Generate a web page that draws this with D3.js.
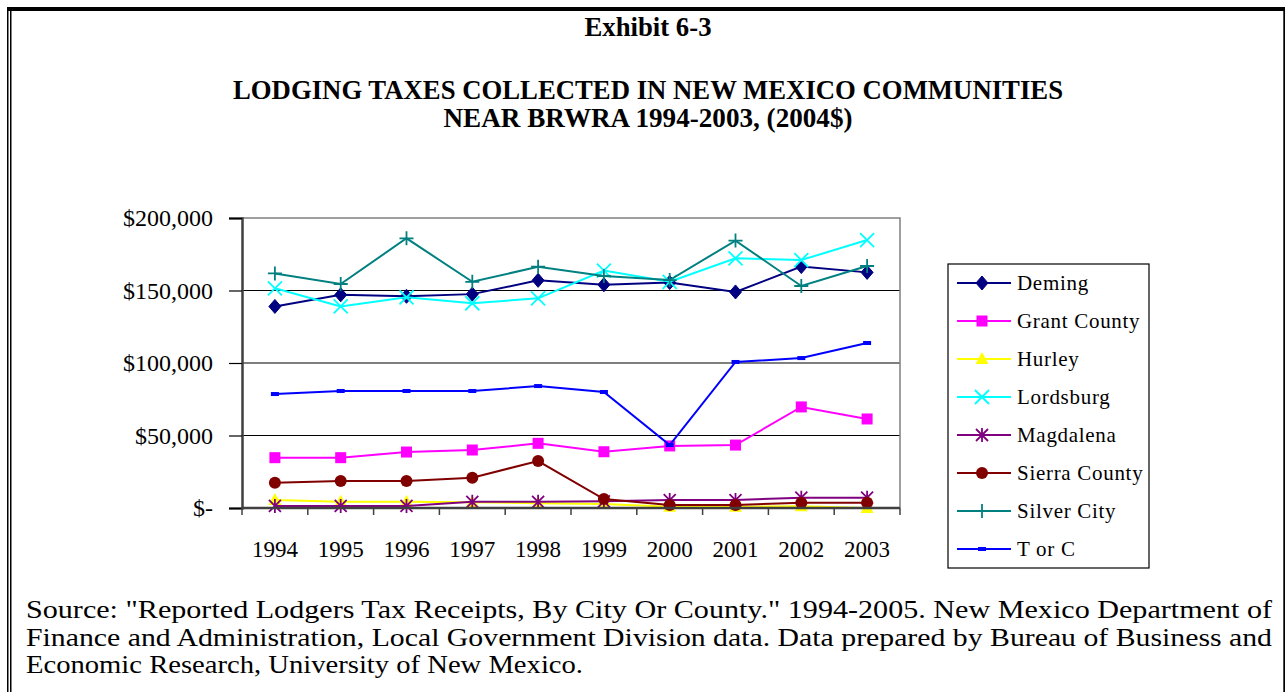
<!DOCTYPE html>
<html>
<head>
<meta charset="utf-8">
<script src="https://cdn.jsdelivr.net/npm/d3@7"></script>
<style>
  body { margin: 0; background: #fff; }
  text { font-family: "Liberation Serif", "Times New Roman", serif; fill: #000; }
</style>
</head>
<body>
<svg id="chart" width="1285" height="692"></svg>
<script>
var years = ["1994","1995","1996","1997","1998","1999","2000","2001","2002","2003"];
var seriesNames = ["Deming","Grant County","Hurley","Lordsburg","Magdalena","Sierra County","Silver City","T or C"];
var deming       = [139000,147000,146000,147500,157000,154000,155500,149000,166500,162500];
var grantCounty  = [34700,34700,38600,40000,44600,38800,42800,43400,69700,61400];
var hurley       = [5500,4300,4300,4000,3200,2700,800,800,1200,0];
var lordsburg    = [151500,139000,145300,141200,144600,163700,156000,172200,171000,184800];
var magdalena    = [1400,1400,1400,4300,4300,4600,5500,5500,7100,7100];
var sierraCounty = [17400,18600,18600,20900,32400,6200,2100,2100,3700,3700];
var silverCity   = [161800,154500,186000,156000,166400,160000,157200,184400,153100,166900];
var tOrC         = [78600,80700,80700,80700,84100,80000,43400,100700,103400,113800];
var yTicks = [0,50000,100000,150000,200000];
var yTickLabels = ["$-","$50,000","$100,000","$150,000","$200,000"];

var allValues = [deming,grantCounty,hurley,lordsburg,magdalena,sierraCounty,silverCity,tOrC];
var colors = ["#000080","#FF00FF","#FFFF00","#00FFFF","#800080","#800000","#008080","#0000FF"];
var symbols = ["diamond","square","triangle","x","asterisk","circle","plus","dash"];

var svg = d3.select('#chart');

// page frame
svg.append('rect').attr('x',7).attr('y',7).attr('width',1278).attr('height',4).attr('fill','#000');
svg.append('rect').attr('x',7).attr('y',7).attr('width',1.5).attr('height',685).attr('fill','#000');
svg.append('rect').attr('x',10).attr('y',7).attr('width',1.5).attr('height',685).attr('fill','#000');
svg.append('rect').attr('x',1283.3).attr('y',7).attr('width',1.7).attr('height',685).attr('fill','#000');

// titles (widths matched to the exhibit)
function title(txt, yy, w) {
	svg.append('text').attr('x',648).attr('y',yy).attr('text-anchor','middle')
		.style('font-size','27px').style('font-weight','bold')
		.attr('textLength',w).attr('lengthAdjust','spacingAndGlyphs')
		.text(txt);
}
title('Exhibit 6-3', 36, 127);
title('LODGING TAXES COLLECTED IN NEW MEXICO COMMUNITIES', 99, 830);
title('NEAR BRWRA 1994-2003, (2004$)', 127, 409);

// scales
var x = d3.scaleBand()
	.domain(years)
	.range([242, 900]);

var y = d3.scaleLinear()
	.domain([0,200000])
	.range([508, 218]);

var plot = svg.append('g');

// gridlines
plot.selectAll('.grid')
	.data(yTicks.filter(function(d){ return d>0 && d<200000; }))
	.enter().append('line')
	.attr('x1',242).attr('x2',900)
	.attr('y1',function(d){ return y(d); })
	.attr('y2',function(d){ return y(d); })
	.attr('stroke','#000').attr('stroke-width',1.2);

// plot area border (top, right)
plot.append('path')
	.attr('d','M242,' + y(200000) + 'H900V' + y(0))
	.attr('fill','none').attr('stroke','#808080').attr('stroke-width',1.5);

// y axis
var yAxis = d3.axisLeft(y)
	.tickValues(yTicks)
	.tickSize(13)
	.tickPadding(16)
	.tickFormat(function(d,i){ return yTickLabels[i]; });

var yg = svg.append('g').attr('transform','translate(242,0)').call(yAxis);
yg.select('.domain').attr('stroke','#404040').attr('stroke-width',2.5);
yg.selectAll('.tick line').attr('stroke','#000').attr('stroke-width',1.2);
yg.selectAll('.tick text').style('font-size','24px').style('font-family','"Liberation Serif", serif');

// x axis: ticks between categories
var xg = svg.append('g').attr('transform','translate(0,508)');
xg.append('line').attr('x1',242).attr('x2',900).attr('y1',0).attr('y2',0)
	.attr('stroke','#404040').attr('stroke-width',2.5);
xg.selectAll('.xt')
	.data(years.concat(['end']))
	.enter().append('line')
	.attr('x1',function(d,i){ return i<years.length ? x(d) : x.range()[1]; })
	.attr('x2',function(d,i){ return i<years.length ? x(d) : x.range()[1]; })
	.attr('y1',0).attr('y2',7)
	.attr('stroke','#404040').attr('stroke-width',1.5);
xg.selectAll('.xl')
	.data(years)
	.enter().append('text')
	.attr('x',function(d){ return x(d) + x.bandwidth()/2; })
	.attr('y',49)
	.attr('text-anchor','middle')
	.style('font-size','23px')
	.text(function(d){ return d; });

// markers
function drawMarker(g, type, color) {
	if (type === 'diamond') {
		g.append('path').attr('d','M0,-7L6,0L0,7L-6,0Z').attr('fill',color).attr('stroke',color);
	} else if (type === 'square') {
		g.append('rect').attr('x',-5.5).attr('y',-5.5).attr('width',11).attr('height',11).attr('fill',color);
	} else if (type === 'triangle') {
		g.append('path').attr('d','M0,-7L6.5,5L-6.5,5Z').attr('fill',color);
	} else if (type === 'x') {
		g.append('path').attr('d','M-7,-7L7,7M-7,7L7,-7').attr('stroke',color).attr('stroke-width',1.8);
	} else if (type === 'asterisk') {
		g.append('path').attr('d','M-6,-6L6,6M-6,6L6,-6M0,-7V7').attr('stroke',color).attr('stroke-width',1.8);
	} else if (type === 'circle') {
		g.append('circle').attr('r',6).attr('fill',color);
	} else if (type === 'plus') {
		g.append('path').attr('d','M-7,0H7M0,-7V7').attr('stroke',color).attr('stroke-width',1.8);
	} else if (type === 'dash') {
		g.append('rect').attr('x',-4).attr('y',-2).attr('width',8).attr('height',4).attr('fill',color);
	}
}

var line = d3.line()
	.x(function(d,i){ return x(years[i]) + x.bandwidth()/2; })
	.y(function(d){ return y(d); });

allValues.forEach(function(vals, s) {
	var sg = plot.append('g');
	sg.append('path')
		.attr('d', line(vals))
		.attr('fill','none')
		.attr('stroke', colors[s])
		.attr('stroke-width', 2);
	vals.forEach(function(v, i) {
		var mg = sg.append('g')
			.attr('transform','translate(' + (x(years[i]) + x.bandwidth()/2) + ',' + y(v) + ')');
		drawMarker(mg, symbols[s], colors[s]);
	});
});

// legend
var legend = svg.append('g');
legend.append('rect').attr('x',948).attr('y',264).attr('width',201).attr('height',304)
	.attr('fill','#fff').attr('stroke','#000').attr('stroke-width',1.2);
seriesNames.forEach(function(name, s) {
	var ly = 283 + s*38;
	var lg = legend.append('g');
	lg.append('line').attr('x1',957).attr('x2',1011).attr('y1',ly).attr('y2',ly)
		.attr('stroke',colors[s]).attr('stroke-width',2);
	drawMarker(lg.append('g').attr('transform','translate(982,' + ly + ')'), symbols[s], colors[s]);
	lg.append('text').attr('x',1017).attr('y',ly+7)
		.style('font-size','21px').style('letter-spacing','0.7px').text(name);
});

// source note
var src = [
	'Source: "Reported Lodgers Tax Receipts, By City Or County." 1994-2005. New Mexico Department of',
	'Finance and Administration, Local Government Division data. Data prepared by Bureau of Business and',
	'Economic Research, University of New Mexico.'
];
var srcWidths = [1246, 1246, 557];
src.forEach(function(t, i) {
	svg.append('text').attr('x',26).attr('y',618 + i*27.5)
		.style('font-size','25px')
		.attr('textLength',srcWidths[i]).attr('lengthAdjust','spacingAndGlyphs')
		.text(t);
});
</script>
</body>
</html>
